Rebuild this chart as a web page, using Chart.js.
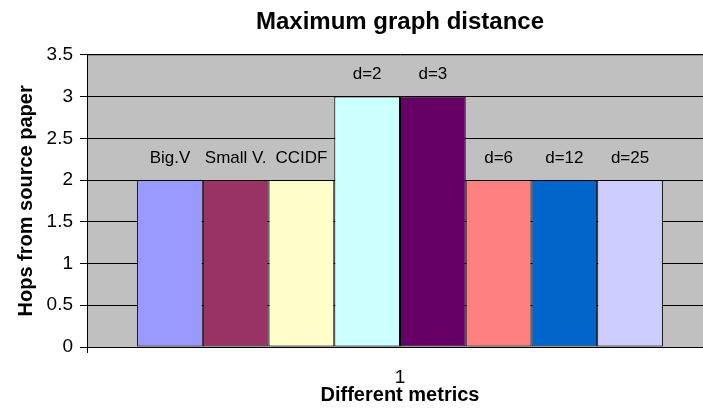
<!DOCTYPE html>
<html>
<head>
<meta charset="utf-8">
<script src="https://cdn.jsdelivr.net/npm/chart.js@4.4.1/dist/chart.umd.min.js"></script>
<style>
  html, body { margin: 0; padding: 0; background: #fff; overflow: hidden; }
  #wrap { width: 703px; height: 410px; overflow: hidden; }
</style>
</head>
<body>
<div id="wrap"><canvas id="chart" width="720" height="410"></canvas></div>
<script>
// data
const categories = ['1'];
const metricNames = ['Big.V', 'Small V.', 'CCIDF', 'd=2', 'd=3', 'd=6', 'd=12', 'd=25'];
const hops = [2, 2, 2, 3, 3, 2, 2, 2];

const barColors = ['#9999FF', '#993366', '#FFFFCC', '#CCFFFF', '#660066', '#FF8080', '#0066CC', '#CCCCFF'];
const FONT = "'Liberation Sans', Arial, sans-serif";

// grey plot area like the old Excel charts
const plotBackground = {
  id: 'plotBackground',
  beforeDraw(chart) {
    const { ctx, chartArea: a } = chart;
    ctx.save();
    ctx.fillStyle = '#C0C0C0';
    ctx.fillRect(a.left, a.top, a.right - a.left, a.bottom - a.top);
    ctx.strokeStyle = '#808080';
    ctx.lineWidth = 1;
    ctx.strokeRect(a.left + 0.5, a.top + 0.5, a.right - a.left, a.bottom - a.top);
    ctx.restore();
  }
};

// series name above each bar
const barLabels = {
  id: 'barLabels',
  afterDatasetsDraw(chart) {
    const ctx = chart.ctx;
    ctx.save();
    ctx.font = '17px ' + FONT;
    ctx.fillStyle = '#000';
    ctx.textAlign = 'center';
    ctx.textBaseline = 'middle';
    chart.data.datasets.forEach((ds, i) => {
      const bar = chart.getDatasetMeta(i).data[0];
      if (bar) ctx.fillText(ds.label, bar.x, bar.y - 22);
    });
    ctx.restore();
  }
};

const datasets = metricNames.map((name, i) => ({
  label: name,
  data: [hops[i]],
  backgroundColor: barColors[i],
  borderColor: '#000',
  borderWidth: 1,
  borderSkipped: false
}));

new Chart(document.getElementById('chart'), {
  type: 'bar',
  data: { labels: categories, datasets: datasets },
  options: {
    responsive: false,
    animation: false,
    layout: { padding: { left: 0, right: 7, top: 0, bottom: 0 } },
    datasets: { bar: { categoryPercentage: 0.84, barPercentage: 1 } },
    plugins: {
      legend: { display: false },
      tooltip: { enabled: false },
      title: {
        display: true,
        fullSize: false,
        text: 'Maximum graph distance',
        color: '#000',
        font: { family: FONT, size: 24, weight: 'bold' },
        padding: { top: 8, bottom: 18 }
      }
    },
    scales: {
      x: {
        offset: true,
        grid: { drawOnChartArea: false, drawTicks: true, tickLength: 6, color: '#000', offset: true },
        border: { color: '#000', width: 1 },
        ticks: { color: '#000', font: { family: FONT, size: 19 }, padding: 13 },
        title: {
          display: true,
          text: 'Different metrics',
          color: '#000',
          font: { family: FONT, size: 20, weight: 'bold' },
          padding: { top: 0, bottom: 3 }
        },
        afterFit(scale) { scale.height = 63; }
      },
      y: {
        min: 0,
        max: 3.5,
        ticks: {
          stepSize: 0.5,
          color: '#000',
          font: { family: FONT, size: 19 },
          padding: 7,
          callback: (v) => String(v)
        },
        grid: { color: '#000', lineWidth: 1, tickLength: 7 },
        border: { color: '#000', width: 1 },
        title: {
          display: true,
          text: 'Hops from source paper',
          color: '#000',
          font: { family: FONT, size: 20, weight: 'bold' },
          padding: { top: 14, bottom: 0 }
        },
        afterFit(scale) { scale.width = 87; }
      }
    }
  },
  plugins: [plotBackground, barLabels]
});
</script>
</body>
</html>
